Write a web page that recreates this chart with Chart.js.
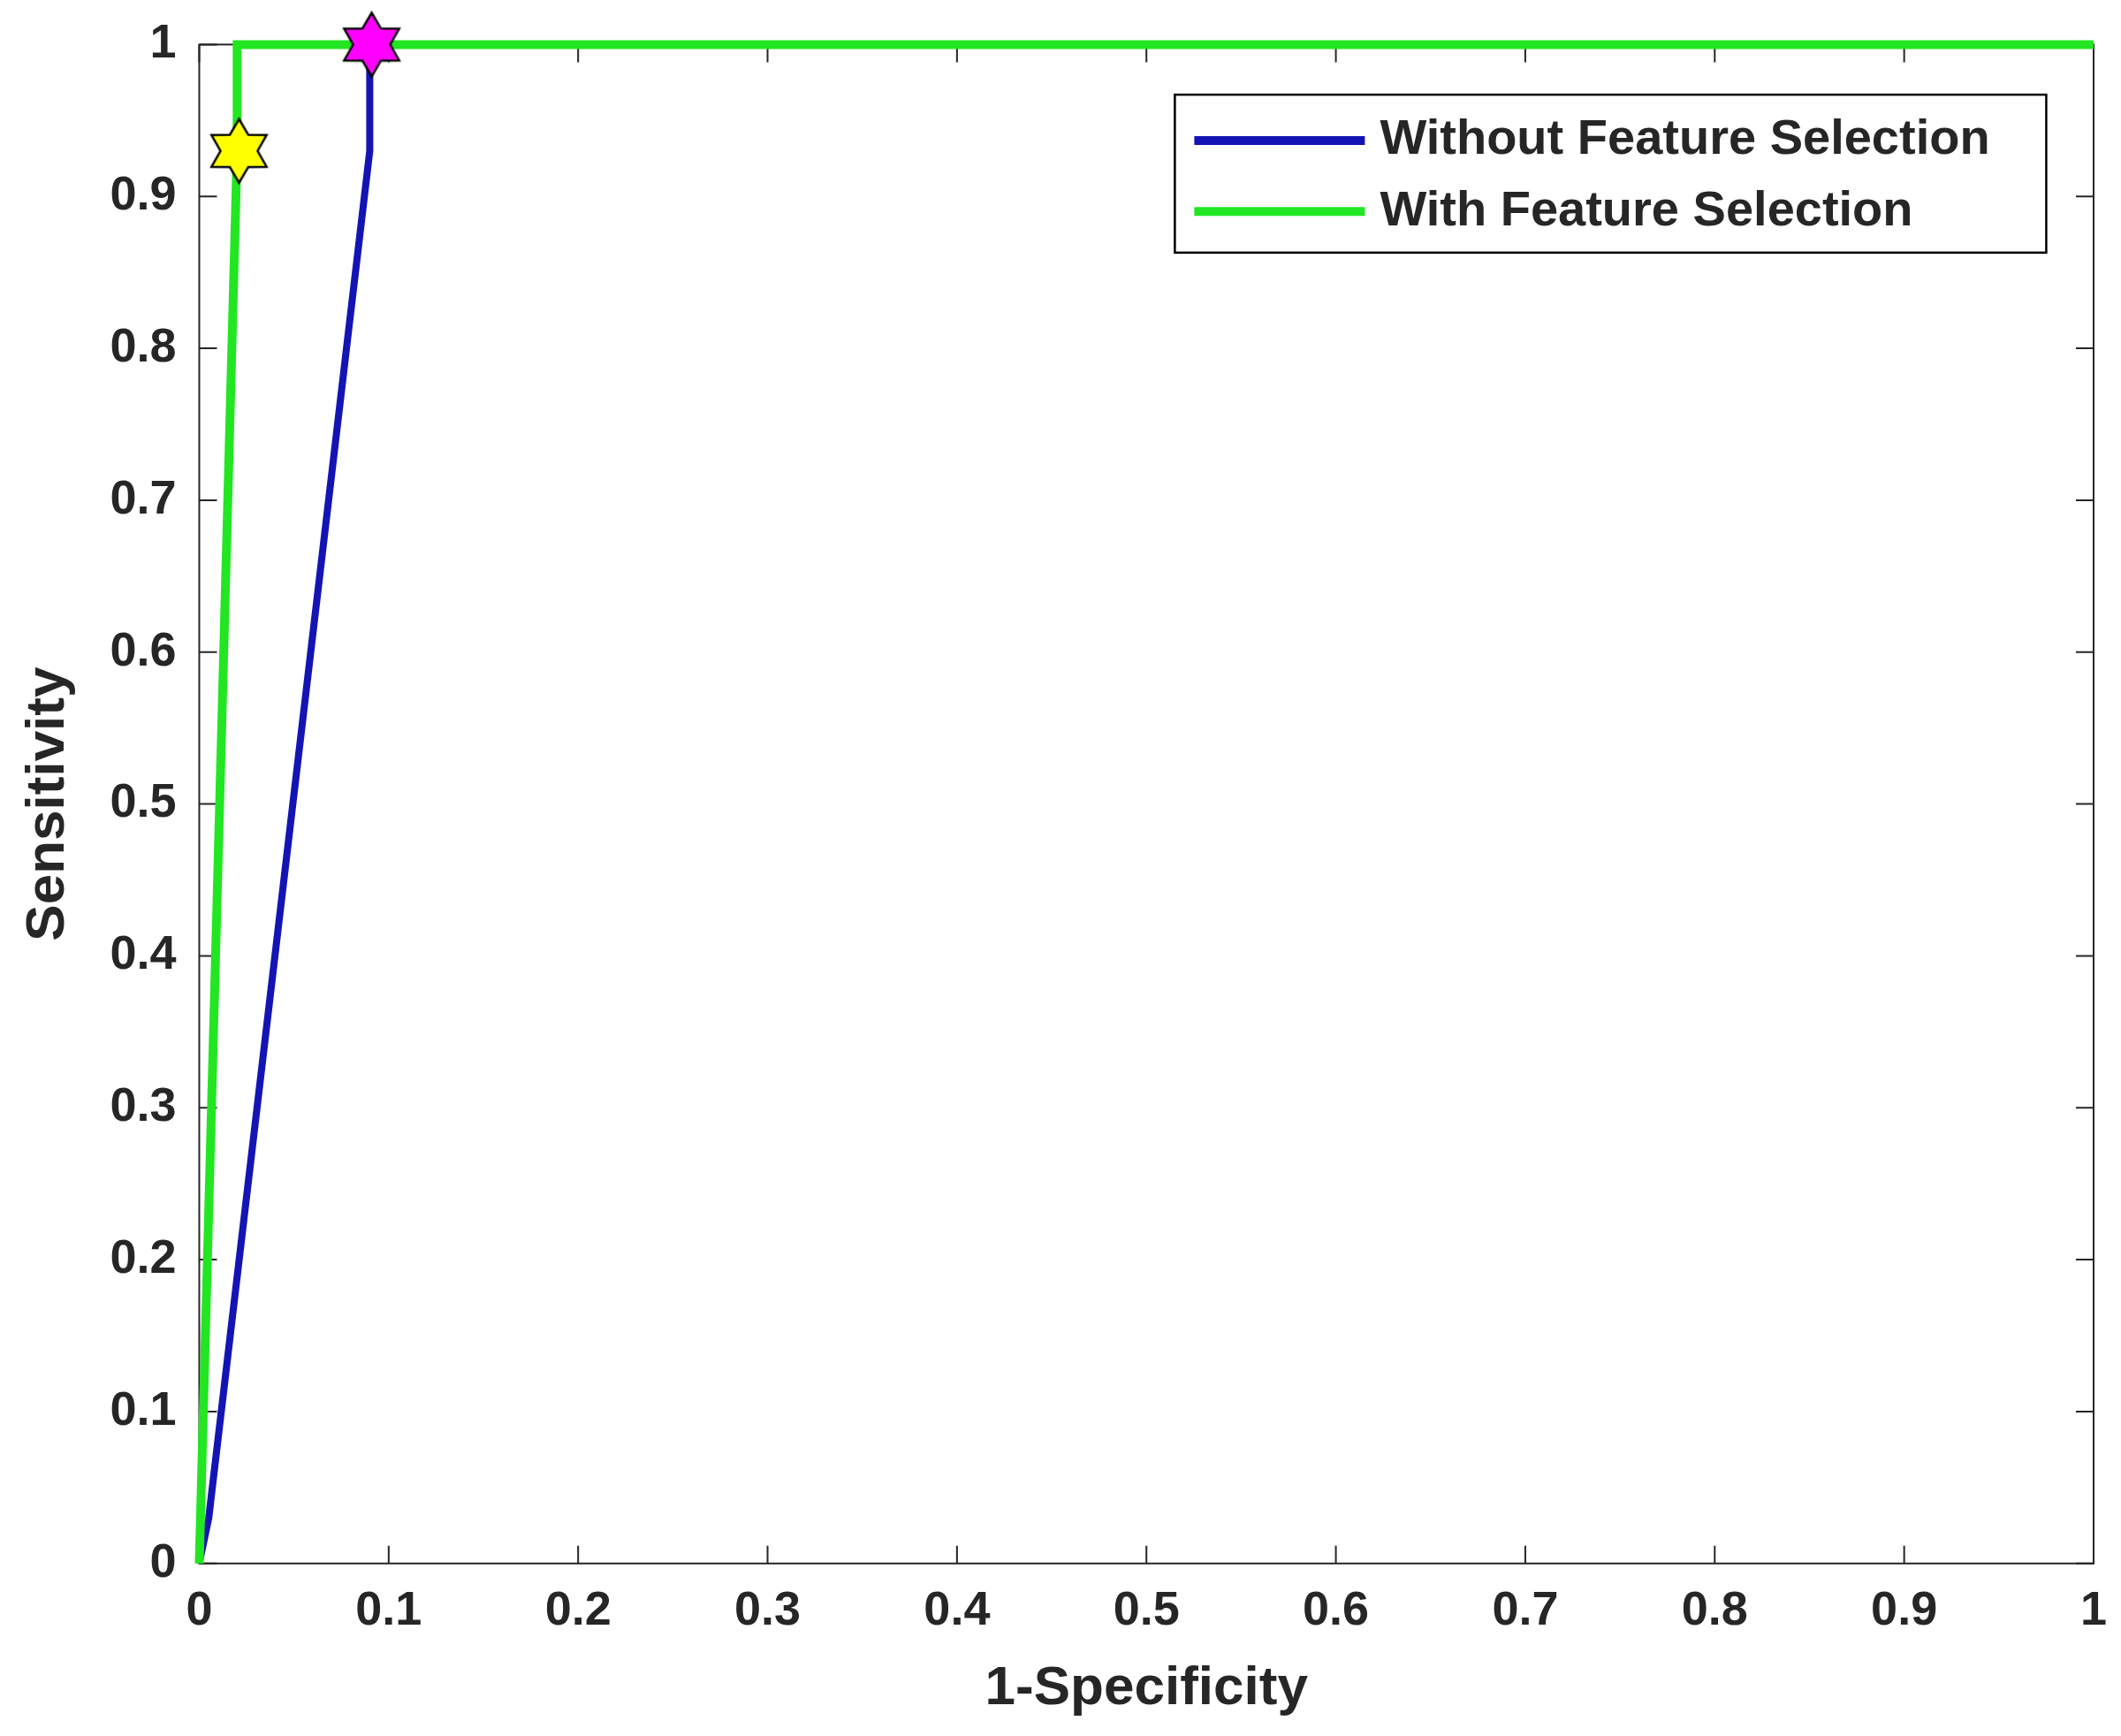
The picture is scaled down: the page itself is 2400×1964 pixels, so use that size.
<!DOCTYPE html>
<html>
<head>
<meta charset="utf-8">
<script src="https://cdn.jsdelivr.net/npm/chart.js@4/dist/chart.umd.min.js"></script>
<style>
  html, body { margin: 0; padding: 0; background: #fff; }
  #wrap { width: 2400px; height: 1964px; }
</style>
</head>
<body>
<div id="wrap"><canvas id="c"></canvas></div>
<script>
// ROC curves
const noFsX = [0, 0.005, 0.09, 0.09, 0.34, 0.38, 1];
const noFsY = [0, 0.03, 0.93, 1, 1, 1, 1];
const fsX = [0, 0.02, 0.02, 1];
const fsY = [0, 0.93, 1, 1];
const markX = [0.021, 0.091];
const markY = [0.93, 1.0];
const markColors = ['#ffff00', '#ff00ff'];
const tickVals = [0, 0.1, 0.2, 0.3, 0.4, 0.5, 0.6, 0.7, 0.8, 0.9, 1];
const seriesNames = ['Without Feature Selection', 'With Feature Selection'];

const pts = (xs, ys) => xs.map((x, i) => ({ x: x, y: ys[i] }));

// six-pointed star (hexagram) marker
function hexagram(fill) {
  const s = 80, c = document.createElement('canvas');
  c.width = s; c.height = s;
  const g = c.getContext('2d');
  const R = 36, r = 21;
  g.beginPath();
  for (let i = 0; i < 12; i++) {
    const a = -Math.PI / 2 + i * Math.PI / 6;
    const rr = i % 2 ? r : R;
    g.lineTo(s / 2 + rr * Math.cos(a), s / 2 + rr * Math.sin(a));
  }
  g.closePath();
  g.fillStyle = fill; g.fill();
  g.lineWidth = 2.5; g.strokeStyle = '#000'; g.stroke();
  return c;
}

const FONT = "'Liberation Sans', Arial, sans-serif";

const matlabFrame = {
  id: 'matlabFrame',
  beforeDatasetsDraw(chart) {
    const { ctx, chartArea: a, scales } = chart;
    ctx.save();
    ctx.strokeStyle = '#262626'; ctx.lineWidth = 2;
    ctx.strokeRect(a.left, a.top, a.right - a.left, a.bottom - a.top);
    const L = 20;
    ctx.beginPath();
    tickVals.forEach(v => {
      const x = scales.x.getPixelForValue(v);
      ctx.moveTo(x, a.bottom); ctx.lineTo(x, a.bottom - L);
      ctx.moveTo(x, a.top); ctx.lineTo(x, a.top + L);
      const y = scales.y.getPixelForValue(v);
      ctx.moveTo(a.left, y); ctx.lineTo(a.left + L, y);
      ctx.moveTo(a.right, y); ctx.lineTo(a.right - L, y);
    });
    ctx.stroke();
    ctx.restore();
  },
  afterDatasetsDraw(chart) {
    const { ctx, chartArea: a } = chart;
    ctx.save();
    const w = a.right - a.left, h = a.bottom - a.top;
    const bx = a.left + w * 0.515, by = a.top + h * 0.033;
    const bw = w * 0.46, bh = h * 0.104;
    ctx.fillStyle = '#fff';
    ctx.fillRect(bx, by, bw, bh);
    ctx.strokeStyle = '#000'; ctx.lineWidth = 2.5;
    ctx.strokeRect(bx, by, bw, bh);
    const cols = ['#1414b4', '#22e622'];
    ctx.font = 'bold 56px ' + FONT;
    ctx.textBaseline = 'middle';
    seriesNames.forEach((n, i) => {
      const y = by + bh * (0.29 + i * 0.45);
      ctx.strokeStyle = cols[i]; ctx.lineWidth = 10;
      ctx.beginPath(); ctx.moveTo(bx + 22, y); ctx.lineTo(bx + 215, y); ctx.stroke();
      ctx.fillStyle = '#262626';
      ctx.fillText(n, bx + 232, y);
    });
    ctx.restore();
  }
};

new Chart(document.getElementById('c'), {
  type: 'scatter',
  data: {
    datasets: [
      { data: pts(markX, markY), showLine: false, clip: false,
        pointStyle: markColors.map(hexagram), pointRadius: 30, order: 0 },
      { label: seriesNames[1], data: pts(fsX, fsY), showLine: true, clip: false,
        borderColor: '#22e622', borderWidth: 10, pointRadius: 0, order: 1 },
      { label: seriesNames[0], data: pts(noFsX, noFsY), showLine: true, clip: false,
        borderColor: '#1414b4', borderWidth: 8, pointRadius: 0, order: 2 }
    ]
  },
  options: {
    responsive: true, maintainAspectRatio: false, animation: false,
    layout: { padding: { left: 14, right: 22, top: 50, bottom: 12 } },
    plugins: { legend: { display: false }, tooltip: { enabled: false } },
    scales: {
      x: {
        type: 'linear', min: 0, max: 1,
        afterBuildTicks: s => { s.ticks = tickVals.map(v => ({ value: v })); },
        grid: { display: false }, border: { display: false },
        ticks: { color: '#262626', font: { family: FONT, size: 54, weight: 'bold' }, padding: 14,
                 callback: v => String(+v.toFixed(1)) },
        title: { display: true, text: '1-Specificity', color: '#262626',
                 font: { family: FONT, size: 62, weight: 'bold' }, padding: { top: 4 } }
      },
      y: {
        type: 'linear', min: 0, max: 1,
        afterBuildTicks: s => { s.ticks = tickVals.map(v => ({ value: v })); },
        grid: { display: false }, border: { display: false },
        ticks: { color: '#262626', font: { family: FONT, size: 54, weight: 'bold' }, padding: 18,
                 callback: v => String(+v.toFixed(1)) },
        title: { display: true, text: 'Sensitivity', color: '#262626',
                 font: { family: FONT, size: 62, weight: 'bold' }, padding: { bottom: 14 } }
      }
    }
  },
  plugins: [matlabFrame]
});
</script>
</body>
</html>
